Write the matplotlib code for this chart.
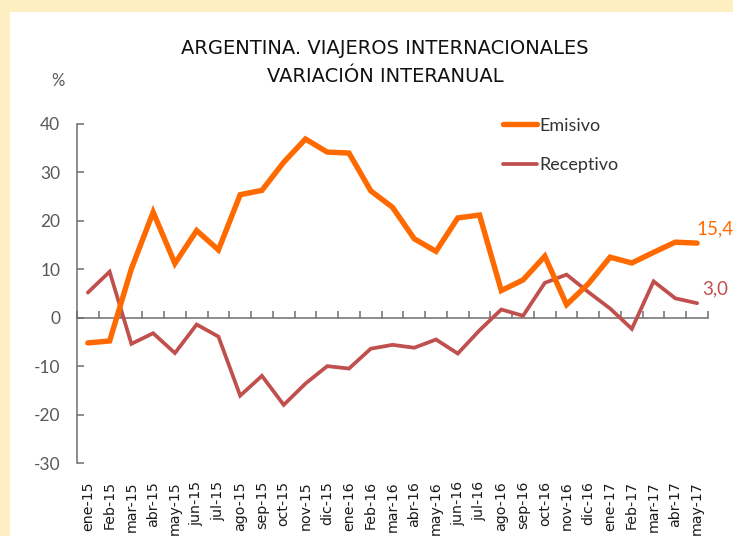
import matplotlib
matplotlib.use("Agg")
import matplotlib.pyplot as plt
from matplotlib.patches import Rectangle
import numpy as np

categories = ["ene-15", "Feb-15", "mar-15", "abr-15", "may-15", "jun-15", "jul-15",
              "ago-15", "sep-15", "oct-15", "nov-15", "dic-15", "ene-16", "Feb-16",
              "mar-16", "abr-16", "may-16", "jun-16", "jul-16", "ago-16", "sep-16",
              "oct-16", "nov-16", "dic-16", "ene-17", "Feb-17", "mar-17", "abr-17", "may-17"]
emisivo = [-5.2, -4.8, 10.1, 21.8, 11.2, 18.0, 14.0, 25.4, 26.3, 32.1, 36.9, 34.2, 34.0,
           26.2, 22.8, 16.3, 13.7, 20.6, 21.2, 5.6, 7.8, 12.7, 2.7, 7.0, 12.5, 11.3,
           13.5, 15.6, 15.4]
receptivo = [5.2, 9.5, -5.4, -3.2, -7.3, -1.4, -3.9, -16.1, -12.0, -18.0, -13.6, -10.0,
             -10.5, -6.4, -5.6, -6.2, -4.5, -7.4, -2.6, 1.7, 0.4, 7.2, 8.9, 5.3, 1.9,
             -2.3, 7.5, 4.0, 3.0]
yticks = [-30, -20, -10, 0, 10, 20, 30, 40]

W, H = 733, 536
fig = plt.figure(figsize=(W / 100, H / 100), dpi=100)
fig.patch.set_facecolor("#FDEFC2")
fig.patches.append(Rectangle((10 / W, 0), 1 - 10 / W, 1 - 12 / H, transform=fig.transFigure,
                             facecolor="white", edgecolor="none", zorder=-5))

ax = fig.add_axes([77 / W, 1 - 463 / H, (708 - 77) / W, (463 - 124) / H])
ax.set_facecolor("none")
ax.set_zorder(2)

x = np.arange(len(categories))
orange = "#FF6A00"
red = "#C0504D"
ax.plot(x, emisivo, color=orange, lw=3.9, solid_capstyle="round", solid_joinstyle="miter", label="Emisivo", zorder=3)
ax.plot(x, receptivo, color=red, lw=2.7, solid_capstyle="round", solid_joinstyle="miter", label="Receptivo", zorder=2)

ax.set_xlim(-0.5, len(categories) - 0.5)
ax.set_ylim(-30, 40)
ax.set_yticks(yticks)
ax.set_yticklabels([str(v) for v in yticks])
for s in ["top", "right", "bottom"]:
    ax.spines[s].set_visible(False)
ax.spines["left"].set_color("#6E6E6E")
ax.spines["left"].set_linewidth(1.1)
ax.tick_params(axis="y", direction="in", length=5, width=1.1, color="#6E6E6E",
               labelsize=12.5, labelcolor="#595959", pad=12)
for lab in ax.get_yticklabels():
    lab.set_family("Lato")

ax.set_xticks(x)
ax.set_xticklabels(categories, rotation=90, fontsize=10.2, color="#1A1A1A", family="DejaVu Sans",
                   va="top")
ax.tick_params(axis="x", length=0, pad=13)

# axis line at zero with boundary ticks
y0 = (0 - (-30)) / (40 - (-30))
sec = ax.secondary_xaxis(y0)
sec.set_xticks(np.arange(len(categories) + 1) - 0.5)
sec.set_xticklabels([])
sec.tick_params(direction="in", length=5, width=1.1, color="#6E6E6E")
sec.spines["bottom"].set_color("#6E6E6E")
sec.spines["bottom"].set_linewidth(1.1)
sec.spines["top"].set_color("#6E6E6E")
sec.spines["top"].set_linewidth(1.1)

ax.annotate(f"{emisivo[-1]:.1f}".replace(".", ","), (x[-1], emisivo[-1]), xytext=(-0.5, 4),
            textcoords="offset points", color=orange, fontsize=13.5, family="Lato", ha="left", va="bottom")
ax.annotate(f"{receptivo[-1]:.1f}".replace(".", ","), (x[-1], receptivo[-1]), xytext=(4, 4),
            textcoords="offset points", color=red, fontsize=13.5, family="Lato", ha="left", va="bottom")

leg = ax.legend(loc="upper left", bbox_to_anchor=(0.649, 1.067), frameon=False,
                handlelength=1.9, handletextpad=0.15, labelspacing=1.31,
                prop={"family": "Lato", "size": 13})
for t in leg.get_texts():
    t.set_color("#333333")

fig.text(385 / W, 1 - 48 / H, "ARGENTINA. VIAJEROS INTERNACIONALES", ha="center", va="center",
         fontsize=14, family="DejaVu Sans", color="#111111")
fig.text(385 / W, 1 - 77 / H, "VARIACIÓN INTERANUAL", ha="center", va="center",
         fontsize=14, family="DejaVu Sans", color="#111111")
fig.text(58 / W, 1 - 81 / H, "%", ha="center", va="center", fontsize=12, family="Lato", color="#595959")

fig.savefig("out.png", dpi=100, facecolor=fig.get_facecolor())
